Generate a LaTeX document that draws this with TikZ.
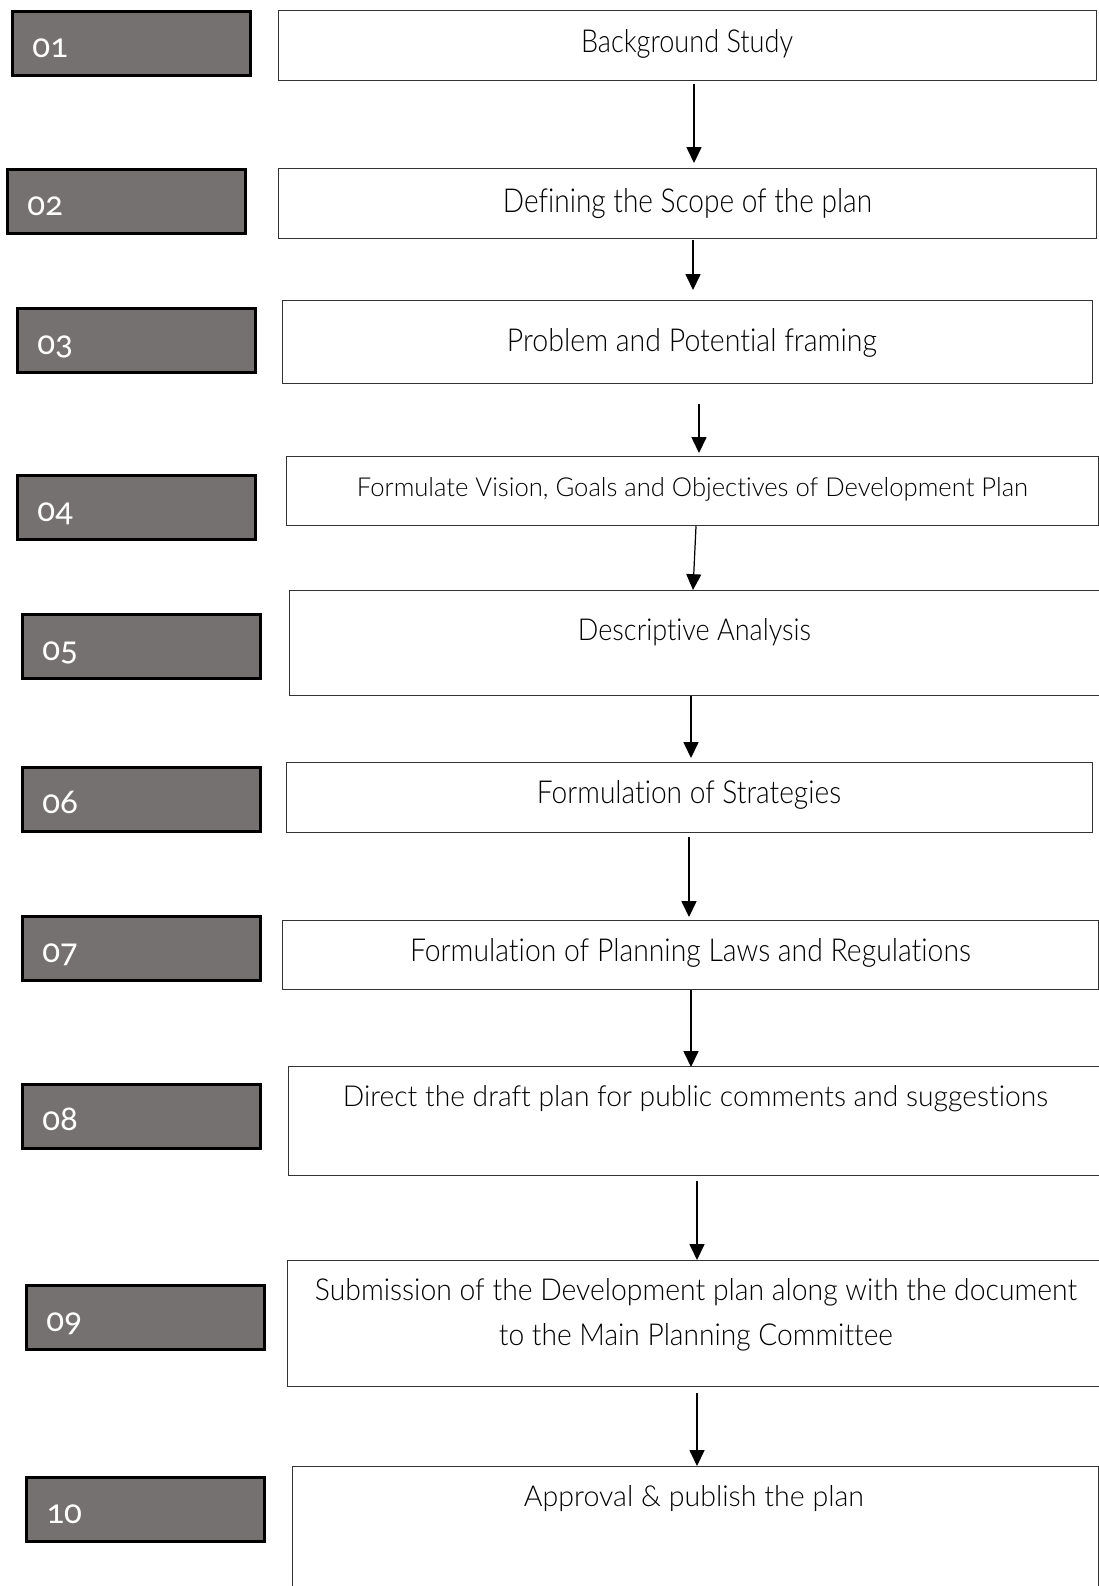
\documentclass[tikz,border=0pt]{standalone}
\usepackage{fontspec}
\usetikzlibrary{arrows.meta}
\setmainfont{Lato Light}[Ligatures=NoCommon]
\newfontfamily\numfont[Numbers=OldStyle]{Carlito}
\definecolor{numgray}{RGB}{118,113,113}
\newlength\px \setlength\px{0.02cm}
\newcommand\fitt[3]{\resizebox{#1\px}{#2\px}{#3}}
\tikzset{
  gbox/.style={draw=black, line width=1.5pt, fill=numgray, inner sep=0pt, anchor=north west, minimum width=238\px, minimum height=64\px},
  wbox/.style={draw=black!80, line width=0.7pt, fill=white, inner sep=0pt, anchor=north west},
  num/.style={text=white, font=\numfont\fontsize{20}{24}\selectfont, anchor=base west, inner sep=0pt},
  lbl/.style={anchor=base, inner sep=0pt},
  arr/.style={draw=black, line width=0.7pt, -{Triangle[length=9pt,width=8.5pt]}}
}
\begin{document}
\begin{tikzpicture}[x=0.02cm,y=-0.02cm]
\path[use as bounding box] (0,0) rectangle (1099,1586);
% gray number boxes
\node[gbox] (g1) at (11,10) {};
\node[gbox] (g2) at (6,168) {};
\node[gbox] (g3) at (16,307) {};
\node[gbox] (g4) at (16,474) {};
\node[gbox] (g5) at (21,613) {};
\node[gbox] (g6) at (21,766) {};
\node[gbox] (g7) at (21,915) {};
\node[gbox] (g8) at (21,1083) {};
\node[gbox] (g9) at (25,1284) {};
\node[gbox] (g10) at (25,1476) {};
\node[num] (n1) at (32,57) {01};
\node[num] (n2) at (27,215) {02};
\node[num] (n3) at (37,354) {03};
\node[num] (n4) at (37,521) {04};
\node[num] (n5) at (42,660) {05};
\node[num] (n6) at (42,813) {06};
\node[num] (n7) at (42,962) {07};
\node[num] (n8) at (42,1130) {08};
\node[num] (n9) at (46,1331) {09};
\node[num] (n10) at (46,1523) {10};
% step boxes
\node[wbox, minimum width=818\px, minimum height=70\px] (b1) at (278,10) {};
\node[wbox, minimum width=818\px, minimum height=70\px] (b2) at (278,168) {};
\node[wbox, minimum width=810\px, minimum height=83\px] (b3) at (282,300) {};
\node[wbox, minimum width=812\px, minimum height=69\px] (b4) at (286,456) {};
\node[wbox, minimum width=830\px, minimum height=105\px] (b5) at (289,590) {};
\node[wbox, minimum width=806\px, minimum height=70\px] (b6) at (286,762) {};
\node[wbox, minimum width=816\px, minimum height=69\px] (b7) at (282,920) {};
\node[wbox, minimum width=830\px, minimum height=109\px] (b8) at (288,1066) {};
\node[wbox, minimum width=830\px, minimum height=126\px] (b9) at (287,1260) {};
\node[wbox, minimum width=806\px, minimum height=150\px] (b10) at (292,1466) {};
% texts
\node[lbl] (t1) at (687,52) {\fitt{212}{23}{Background Study}};
\node[lbl] (t2) at (687.5,212) {\fitt{369}{24}{Defining the Scope of the plan}};
\node[lbl] (t3) at (692,351) {\fitt{370}{23}{Problem and Potential framing}};
\node[lbl] (t4) at (692.5,496) {\fitt{671}{19}{Formulate Vision, Goals and Objectives of Development Plan}};
\node[lbl] (t5) at (694.5,640) {\fitt{233}{22}{Descriptive Analysis}};
\node[lbl] (t6) at (689,803) {\fitt{304}{23}{Formulation of Strategies}};
\node[lbl] (t7) at (690.5,961) {\fitt{561}{23}{Formulation of Planning Laws and Regulations}};
\node[lbl] (t8) at (695.5,1106) {\fitt{705}{21}{Direct the draft plan for public comments and suggestions}};
\node[lbl] (t9a) at (696,1300) {\fitt{762}{22}{Submission of the Development plan along with the document}};
\node[lbl] (t9b) at (696,1345) {\fitt{394}{22}{to the Main Planning Committee}};
\node[lbl] (t10) at (694,1506) {\fitt{340}{21}{Approval \& publish the plan}};
% arrows
\draw[arr, shorten <=3\px, shorten >=5\px] (694,0 |- b1.south) -- (694,0 |- b2.north);
\draw[arr, shorten <=1\px, shorten >=10\px] (693,0 |- b2.south) -- (693,0 |- b3.north);
\draw[arr, shorten <=20\px, shorten >=3\px] (699,0 |- b3.south) -- (699,0 |- b4.north);
\draw[arr] (696,0 |- b4.south) -- (693,0 |- b5.north);
\draw[arr, shorten >=4\px] (691,0 |- b5.south) -- (691,0 |- b6.north);
\draw[arr, shorten <=4\px, shorten >=3\px] (689,0 |- b6.south) -- (689,0 |- b7.north);
\draw[arr, shorten >=-1\px] (691,0 |- b7.south) -- (691,0 |- b8.north);
\draw[arr, shorten <=5\px] (697,0 |- b8.south) -- (697,0 |- b9.north);
\draw[arr, shorten <=6\px] (697,0 |- b9.south) -- (697,0 |- b10.north);
\end{tikzpicture}
\end{document}
